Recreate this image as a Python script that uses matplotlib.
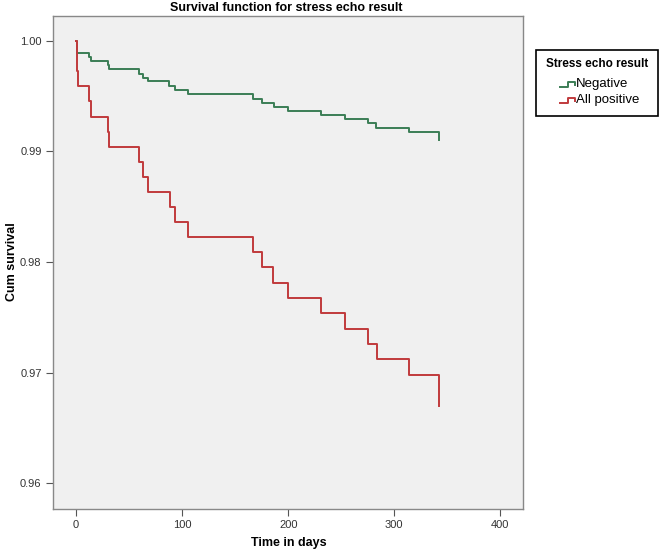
import matplotlib
matplotlib.use("Agg")
import matplotlib.pyplot as plt
from matplotlib.lines import Line2D
from matplotlib.patches import Rectangle

plt.rcParams["font.family"] = ["Liberation Sans", "DejaVu Sans"]

# Data
neg_time = [0, 1.2, 12.5, 14.4, 29.9, 31.4, 59.1, 62.9, 68.1, 87.9, 93.3, 105.3,
            166.5, 175.0, 186.9, 200.1, 230.9, 253.5, 275.5, 282.7, 314.1, 342.4]
neg_surv = [1.0, 0.99894, 0.99855, 0.99816, 0.99780, 0.99742, 0.99701, 0.99665,
            0.99635, 0.99595, 0.99557, 0.99518, 0.99478, 0.99442, 0.99403,
            0.99367, 0.99330, 0.99291, 0.99255, 0.99215, 0.99176, 0.99104]

pos_time = [0, 0.5, 2.0, 12.5, 14.1, 29.9, 31.4, 59.1, 62.9, 68.1, 88.6, 93.3,
            105.3, 167.1, 175.3, 186.0, 200.1, 230.9, 253.5, 275.5, 283.4,
            314.1, 342.4]
pos_surv = [1.0, 0.99729, 0.99593, 0.99457, 0.99315, 0.99179, 0.99043, 0.98908,
            0.98772, 0.98633, 0.98500, 0.98365, 0.98224, 0.98088, 0.97952,
            0.97813, 0.97672, 0.97536, 0.97394, 0.97258, 0.97122, 0.96977,
            0.96700]

x_ticks = [0, 100, 200, 300, 400]
y_ticks = [0.96, 0.97, 0.98, 0.99, 1.00]
series_labels = ["Negative", "All positive"]
legend_title = "Stress echo result"
green = "#3b7d55"
red = "#c03a3c"

W, H = 661, 554
fig = plt.figure(figsize=(W / 100, H / 100), dpi=100)
fig.patch.set_facecolor("white")
ax = fig.add_axes([52.7 / W, 1 - 509 / H, (523 - 52.7) / W, (509 - 16) / H])
ax.set_facecolor("#f0f0f0")

ax.plot(neg_time, neg_surv, drawstyle="steps-post", color=green, lw=1.4)
ax.plot(pos_time, pos_surv, drawstyle="steps-post", color=red, lw=1.4)

ax.set_xlim(-22, 421.3)
ax.set_ylim(0.95765, 1.00226)
ax.set_xticks(x_ticks)
ax.set_yticks(y_ticks)
ax.set_xticklabels([str(t) for t in x_ticks])
ax.set_yticklabels([f"{t:.2f}" for t in y_ticks])
ax.tick_params(axis="both", direction="out", length=5, width=0.8,
               color="#555555", labelsize=8, labelcolor="#333333", pad=3)
for s in ax.spines.values():
    s.set_color("#888888")
    s.set_linewidth(1.0)

fig.text(286 / W, 1 - 8 / H, "Survival function for stress echo result",
         ha="center", va="center", fontsize=9, fontweight="bold")
fig.text(289 / W, 1 - 543 / H, "Time in days", ha="center", va="center",
         fontsize=9, fontweight="bold")
fig.text(12 / W, 1 - 262 / H, "Cum survival", ha="center", va="center",
         fontsize=9, fontweight="bold", rotation=90)

# Legend drawn in figure pixel coordinates
def fx(px):
    return px / W

def fy(py):
    return 1 - py / H

fig.patches.append(Rectangle((fx(536), fy(116)), fx(658) - fx(536), fy(50) - fy(116),
                             transform=fig.transFigure, facecolor="white",
                             edgecolor="black", linewidth=1.2))
fig.text(fx(597), fy(64), legend_title, ha="center", va="center",
         fontsize=8.5, fontweight="bold")
for i, (lab, c) in enumerate(zip(series_labels, (green, red))):
    yc = 84 + i * 16
    fig.lines.append(Line2D([fx(560), fx(568), fx(568), fx(575), fx(575)],
                            [fy(yc + 2.5), fy(yc + 2.5), fy(yc - 2.5), fy(yc - 2.5), fy(yc + 1)],
                            transform=fig.transFigure, color=c, lw=1.4))
    fig.text(fx(576), fy(yc), lab, ha="left", va="center", fontsize=9.5)

fig.savefig("out.png", dpi=100)
